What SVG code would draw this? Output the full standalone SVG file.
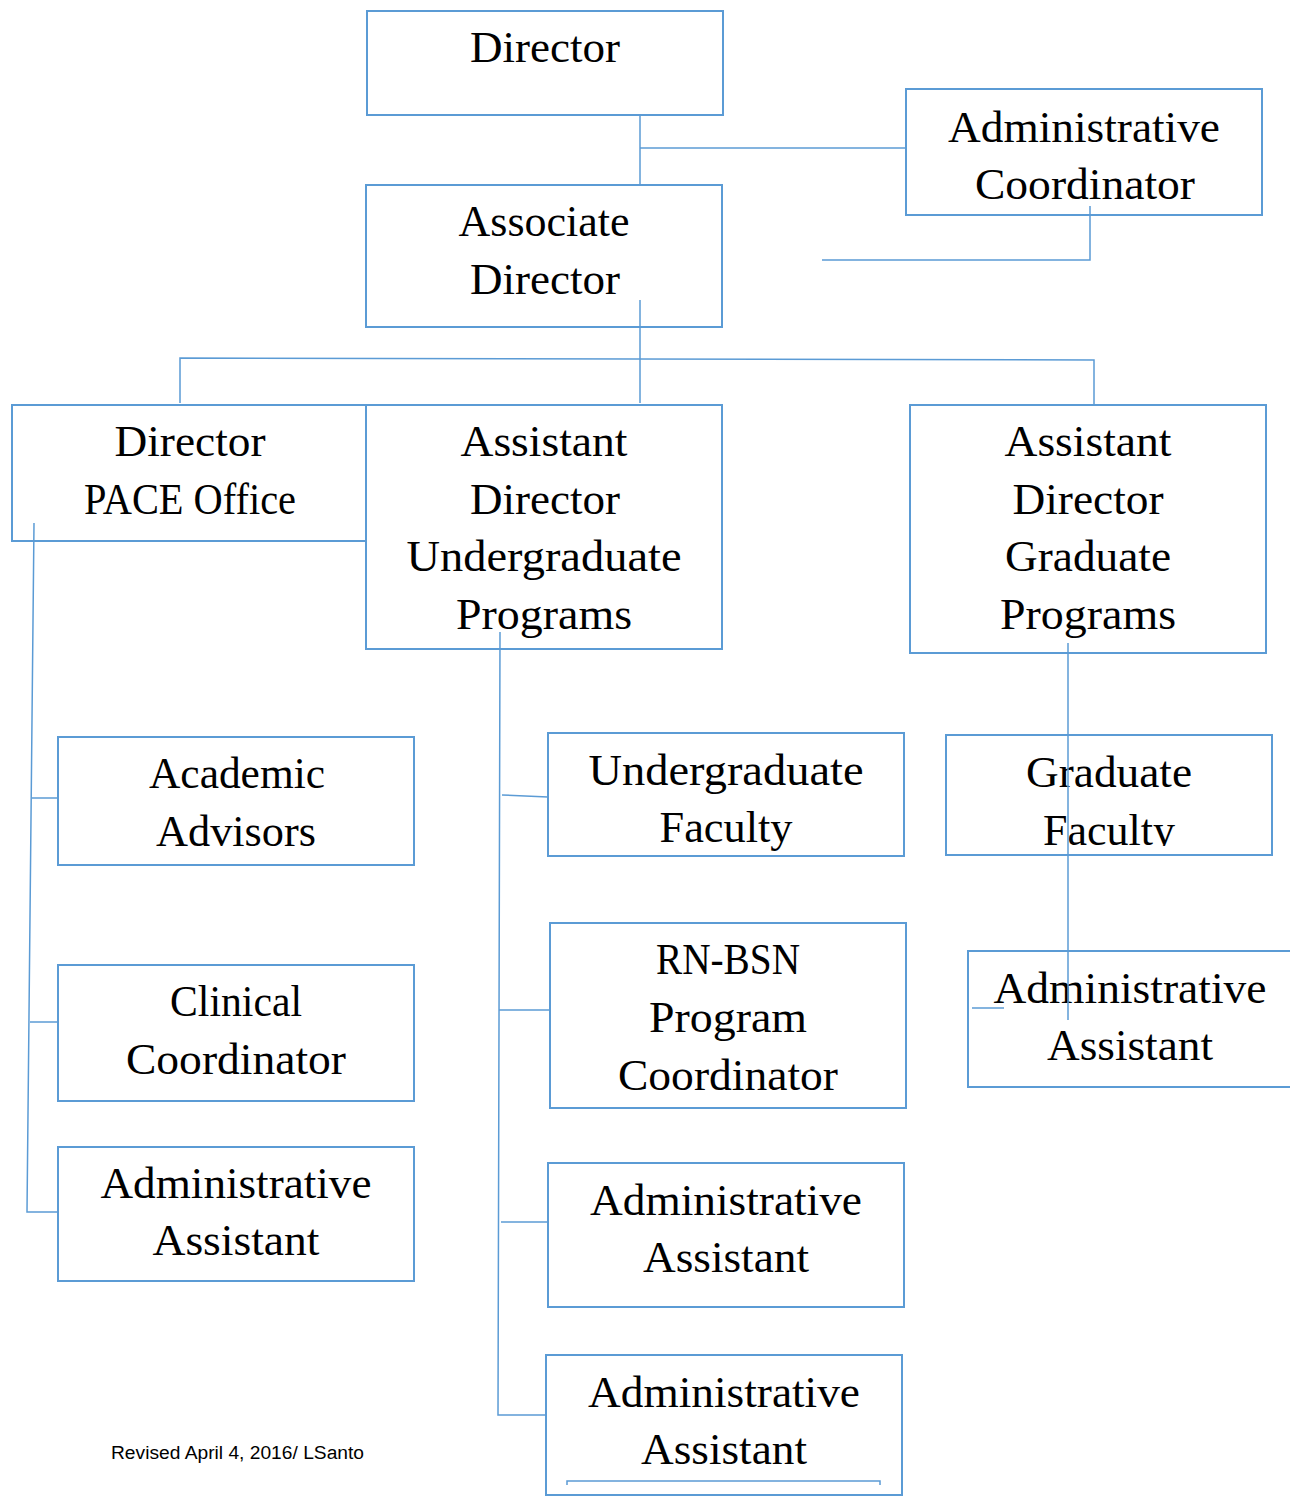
<svg xmlns="http://www.w3.org/2000/svg" width="1290" height="1500" viewBox="0 0 1290 1500">
<style>
.box{fill:#fff;stroke:#5b9bd5;stroke-width:2}
.ln{fill:none;stroke:#5b9bd5;stroke-width:1.5}
.t{font-family:"Liberation Serif","DejaVu Serif",serif;font-size:44px;fill:#000;text-anchor:middle}
.f{font-family:"Liberation Sans",Arial,sans-serif;font-size:18px;fill:#000}
</style>
<defs>
<clipPath id="gfclip"><rect x="946" y="735" width="326" height="111"/></clipPath>
</defs>
<g id="n-director">
<rect class="box" x="367" y="11" width="356" height="104"/>
<text class="t" x="545" y="62" textLength="150" lengthAdjust="spacingAndGlyphs">Director</text>
</g>
<g id="n-admin-coord">
<rect class="box" x="906" y="89" width="356" height="126"/>
<text class="t" x="1084" y="142" textLength="272" lengthAdjust="spacingAndGlyphs">Administrative</text>
<text class="t" x="1085" y="199" textLength="220" lengthAdjust="spacingAndGlyphs">Coordinator</text>
</g>
<g id="n-assoc-director">
<rect class="box" x="366" y="185" width="356" height="142"/>
<text class="t" x="544" y="236" textLength="171" lengthAdjust="spacingAndGlyphs">Associate</text>
<text class="t" x="545" y="294" textLength="150" lengthAdjust="spacingAndGlyphs">Director</text>
</g>
<g id="n-pace">
<rect class="box" x="12" y="405" width="356" height="136"/>
<text class="t" x="190" y="456" textLength="151" lengthAdjust="spacingAndGlyphs">Director</text>
<text class="t" x="190" y="514" textLength="212" lengthAdjust="spacingAndGlyphs">PACE Office</text>
</g>
<g id="n-ad-undergrad">
<rect class="box" x="366" y="405" width="356" height="244"/>
<text class="t" x="544" y="456" textLength="167" lengthAdjust="spacingAndGlyphs">Assistant</text>
<text class="t" x="545" y="514" textLength="150" lengthAdjust="spacingAndGlyphs">Director</text>
<text class="t" x="544" y="571" textLength="275" lengthAdjust="spacingAndGlyphs">Undergraduate</text>
<text class="t" x="544" y="629" textLength="176" lengthAdjust="spacingAndGlyphs">Programs</text>
</g>
<g id="n-ad-grad">
<rect class="box" x="910" y="405" width="356" height="248"/>
<text class="t" x="1088" y="456" textLength="167" lengthAdjust="spacingAndGlyphs">Assistant</text>
<text class="t" x="1088" y="514" textLength="151" lengthAdjust="spacingAndGlyphs">Director</text>
<text class="t" x="1088" y="571" textLength="166" lengthAdjust="spacingAndGlyphs">Graduate</text>
<text class="t" x="1088" y="629" textLength="176" lengthAdjust="spacingAndGlyphs">Programs</text>
</g>
<g id="n-academic-advisors">
<rect class="box" x="58" y="737" width="356" height="128"/>
<text class="t" x="237" y="788" textLength="176" lengthAdjust="spacingAndGlyphs">Academic</text>
<text class="t" x="236" y="846" textLength="160" lengthAdjust="spacingAndGlyphs">Advisors</text>
</g>
<g id="n-clinical-coord">
<rect class="box" x="58" y="965" width="356" height="136"/>
<text class="t" x="236" y="1016" textLength="132" lengthAdjust="spacingAndGlyphs">Clinical</text>
<text class="t" x="236" y="1074" textLength="220" lengthAdjust="spacingAndGlyphs">Coordinator</text>
</g>
<g id="n-admin-asst-left">
<rect class="box" x="58" y="1147" width="356" height="134"/>
<text class="t" x="236" y="1198" textLength="271" lengthAdjust="spacingAndGlyphs">Administrative</text>
<text class="t" x="236" y="1255" textLength="167" lengthAdjust="spacingAndGlyphs">Assistant</text>
</g>
<g id="n-undergrad-faculty">
<rect class="box" x="548" y="733" width="356" height="123"/>
<text class="t" x="726" y="785" textLength="275" lengthAdjust="spacingAndGlyphs">Undergraduate</text>
<text class="t" x="726" y="842" textLength="133" lengthAdjust="spacingAndGlyphs">Faculty</text>
</g>
<g id="n-rnbsn">
<rect class="box" x="550" y="923" width="356" height="185"/>
<text class="t" x="728" y="974" textLength="144" lengthAdjust="spacingAndGlyphs">RN-BSN</text>
<text class="t" x="728" y="1032" textLength="158" lengthAdjust="spacingAndGlyphs">Program</text>
<text class="t" x="728" y="1090" textLength="220" lengthAdjust="spacingAndGlyphs">Coordinator</text>
</g>
<g id="n-admin-asst-mid1">
<rect class="box" x="548" y="1163" width="356" height="144"/>
<text class="t" x="726" y="1215" textLength="272" lengthAdjust="spacingAndGlyphs">Administrative</text>
<text class="t" x="726" y="1272" textLength="166" lengthAdjust="spacingAndGlyphs">Assistant</text>
</g>
<g id="n-admin-asst-mid2">
<rect class="box" x="546" y="1355" width="356" height="140"/>
<text class="t" x="724" y="1407" textLength="272" lengthAdjust="spacingAndGlyphs">Administrative</text>
<text class="t" x="724" y="1464" textLength="166" lengthAdjust="spacingAndGlyphs">Assistant</text>
<path class="ln" d="M567 1485 V1481 H880 V1485"/>
</g>
<g id="n-grad-faculty">
<rect class="box" x="946" y="735" width="326" height="120"/>
<text class="t" x="1109" y="787" textLength="166" lengthAdjust="spacingAndGlyphs">Graduate</text>
<text class="t" x="1109" y="845" textLength="132" lengthAdjust="spacingAndGlyphs" clip-path="url(#gfclip)">Faculty</text>
</g>
<g id="n-admin-asst-right">
<rect class="box" x="968" y="951" width="340" height="136"/>
<text class="t" x="1130" y="1003" textLength="273" lengthAdjust="spacingAndGlyphs">Administrative</text>
<text class="t" x="1130" y="1060" textLength="166" lengthAdjust="spacingAndGlyphs">Assistant</text>
</g>
<g id="connectors">
<path class="ln" d="M640 115 V185"/>
<path class="ln" d="M640 148 H906"/>
<path class="ln" d="M1090 206 V260 H822"/>
<path class="ln" d="M640 300 V403"/>
<path class="ln" d="M180 403 V358 L1094 360 V405"/>
<path class="ln" d="M34 523 L27 1212 H58"/>
<path class="ln" d="M32 798 H58"/>
<path class="ln" d="M30 1022 H58"/>
<path class="ln" d="M500 632 L498 1415 H546"/>
<path class="ln" d="M502 795 L548 797"/>
<path class="ln" d="M499 1010 H550"/>
<path class="ln" d="M501 1222 H548"/>
<path class="ln" d="M1068 643 V1020"/>
<path class="ln" d="M972 1008 H1004"/>
</g>
<text class="f" x="111" y="1459" textLength="253" lengthAdjust="spacingAndGlyphs">Revised April 4, 2016/ LSanto</text>
</svg>
